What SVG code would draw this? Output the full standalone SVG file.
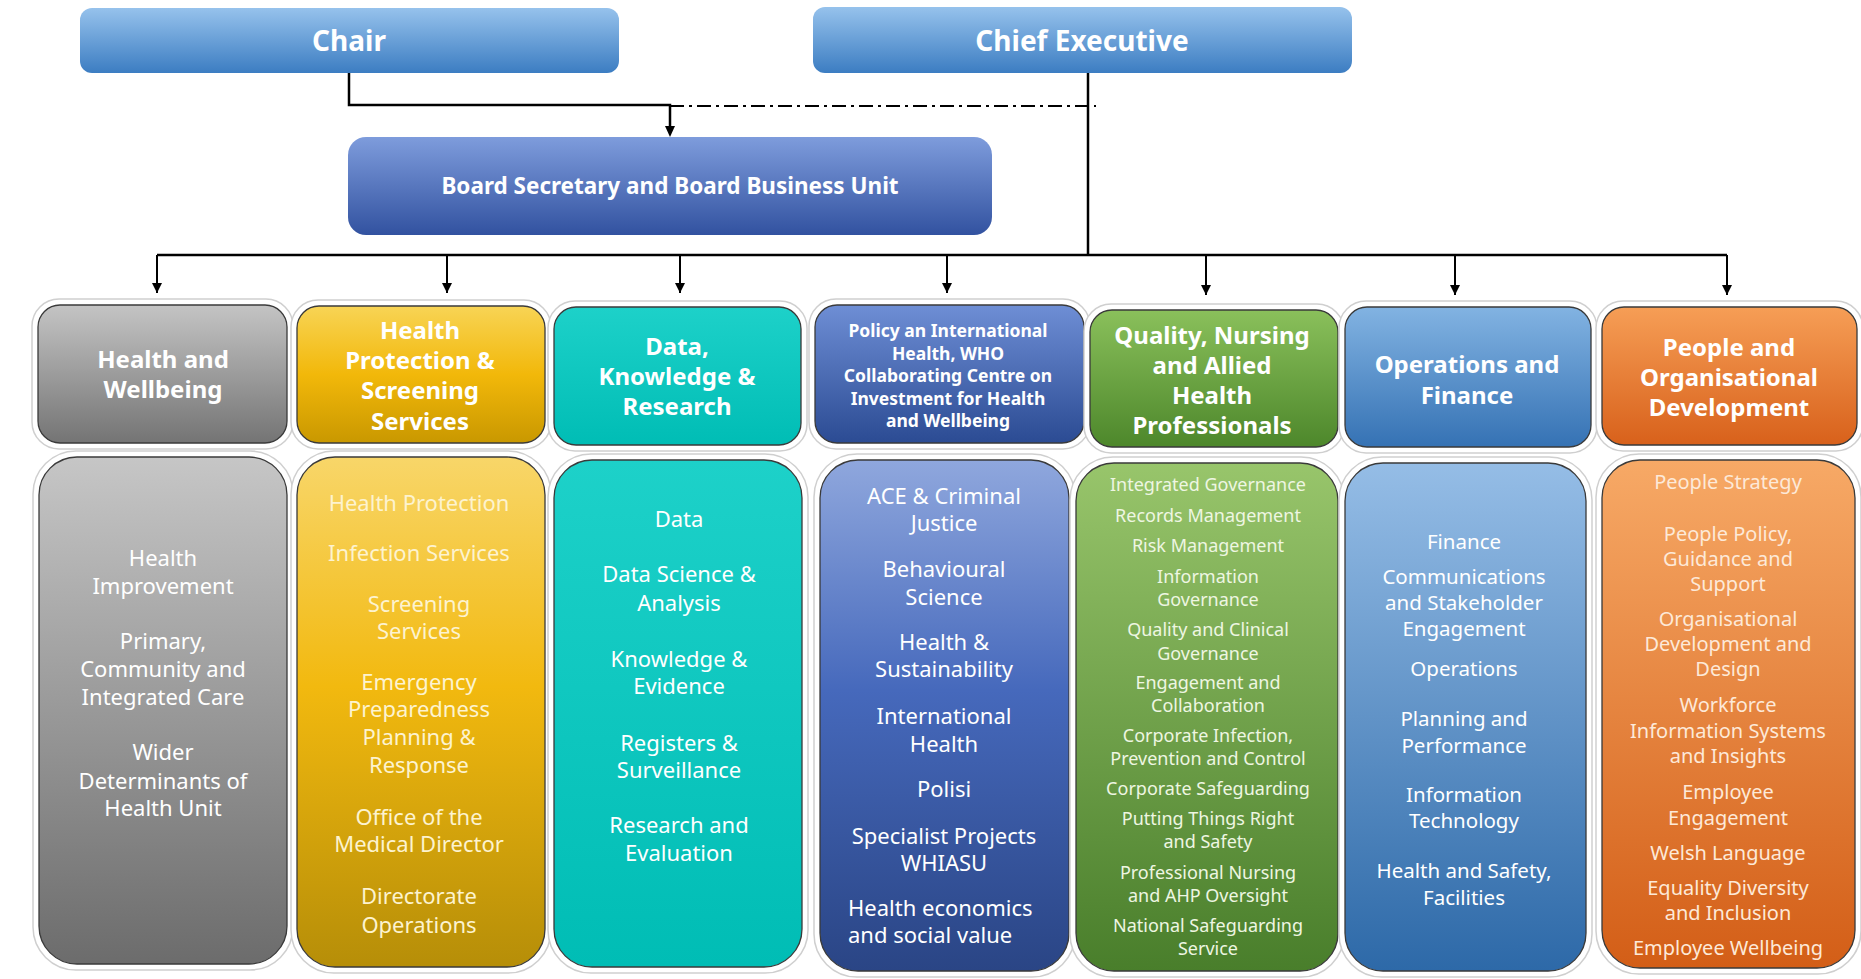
<svg xmlns="http://www.w3.org/2000/svg" width="1861" height="979" viewBox="0 0 1861 979">
<style>
text{font-family:"Noto Sans","Open Sans","Liberation Sans",sans-serif;fill:#fff;text-anchor:middle}
.t{font-weight:700;font-size:28px}
.bs{font-weight:700;font-size:22.5px}
.h{font-weight:700;font-size:24px}
.hs{font-weight:700;font-size:17.5px}
.l{font-size:22px}
.lg{font-size:18px;fill:#eef6e2}
.lo{font-size:20.5px}
.lr{font-size:20px;fill:#fde9d8}
.ly{fill:#fdf3cf}
.ring{fill:#fff;stroke:#cfcfcf;stroke-width:1.5}
.box{stroke:#3a3a3a;stroke-width:1.3}
.ln{fill:none;stroke:#000;stroke-width:2.5}
.ar{fill:none;stroke:#000;stroke-width:2}
</style>
<defs>
<marker id="arr" viewBox="0 0 10 10" refX="10" refY="5" markerWidth="10" markerHeight="10" markerUnits="userSpaceOnUse" orient="auto"><path d="M0,0 L10,5 L0,10 z" fill="#000"/></marker>
<linearGradient id="gTop" x1="0" y1="0" x2="0" y2="1"><stop offset="0" stop-color="#96c2ec"/><stop offset="1" stop-color="#3c7dc2"/></linearGradient>
<linearGradient id="gBoard" x1="0" y1="0" x2="0" y2="1"><stop offset="0" stop-color="#7e9cdc"/><stop offset="1" stop-color="#3252a0"/></linearGradient>
<linearGradient id="gGrayH" x1="0" y1="0" x2="0" y2="1"><stop offset="0" stop-color="#c4c4c4"/><stop offset="1" stop-color="#747474"/></linearGradient>
<linearGradient id="gGrayL" x1="0" y1="0" x2="0" y2="1"><stop offset="0" stop-color="#c6c6c6"/><stop offset="1" stop-color="#6c6c6c"/></linearGradient>
<linearGradient id="gYelH" x1="0" y1="0" x2="0" y2="1"><stop offset="0" stop-color="#f8d455"/><stop offset="0.5" stop-color="#f2b80a"/><stop offset="1" stop-color="#c99800"/></linearGradient>
<linearGradient id="gYelL" x1="0" y1="0" x2="0" y2="1"><stop offset="0" stop-color="#f8d669"/><stop offset="0.45" stop-color="#f2b90f"/><stop offset="1" stop-color="#b68e08"/></linearGradient>
<linearGradient id="gTeal" x1="0" y1="0" x2="0" y2="1"><stop offset="0" stop-color="#1dd1c9"/><stop offset="1" stop-color="#00bdb5"/></linearGradient>
<linearGradient id="gPolH" x1="0" y1="0" x2="0" y2="1"><stop offset="0" stop-color="#6e8ed5"/><stop offset="1" stop-color="#2b4b93"/></linearGradient>
<linearGradient id="gPolL" x1="0" y1="0" x2="0" y2="1"><stop offset="0" stop-color="#8fa7dd"/><stop offset="0.45" stop-color="#4669bc"/><stop offset="1" stop-color="#2a4585"/></linearGradient>
<linearGradient id="gGrnH" x1="0" y1="0" x2="0" y2="1"><stop offset="0" stop-color="#8ac05b"/><stop offset="1" stop-color="#4d872b"/></linearGradient>
<linearGradient id="gGrnL" x1="0" y1="0" x2="0" y2="1"><stop offset="0" stop-color="#98c56b"/><stop offset="1" stop-color="#497e2b"/></linearGradient>
<linearGradient id="gOpsH" x1="0" y1="0" x2="0" y2="1"><stop offset="0" stop-color="#82b3e2"/><stop offset="1" stop-color="#3572b4"/></linearGradient>
<linearGradient id="gOpsL" x1="0" y1="0" x2="0" y2="1"><stop offset="0" stop-color="#95bde6"/><stop offset="1" stop-color="#2d69a8"/></linearGradient>
<linearGradient id="gOrH" x1="0" y1="0" x2="0" y2="1"><stop offset="0" stop-color="#f69e56"/><stop offset="1" stop-color="#d8611b"/></linearGradient>
<linearGradient id="gOrL" x1="0" y1="0" x2="0" y2="1"><stop offset="0" stop-color="#f7a966"/><stop offset="1" stop-color="#d35e17"/></linearGradient>
</defs>
<rect width="1861" height="979" fill="#fff"/>

<g id="connectors">
<path class="ln" d="M349,73 V105 H670 V128"/>
<path d="M665,126 L670,137 L675,126 z" fill="#000"/>
<path class="ar" d="M670,106 H1096" stroke-dasharray="14,5,3,5"/>
<path class="ln" d="M1088,73 V255"/>
<path class="ln" d="M157,255 H1727"/>
<path class="ar" d="M157,255 V293" marker-end="url(#arr)"/>
<path class="ar" d="M447,255 V293" marker-end="url(#arr)"/>
<path class="ar" d="M680,255 V293" marker-end="url(#arr)"/>
<path class="ar" d="M947,255 V293" marker-end="url(#arr)"/>
<path class="ar" d="M1206,255 V295" marker-end="url(#arr)"/>
<path class="ar" d="M1455,255 V295" marker-end="url(#arr)"/>
<path class="ar" d="M1727,255 V295" marker-end="url(#arr)"/>
</g>

<g id="chair">
<rect x="80" y="8" width="539" height="65" rx="12" fill="url(#gTop)"/>
<text class="t" x="349" y="51">Chair</text>
</g>
<g id="chief-executive">
<rect x="813" y="7" width="539" height="66" rx="12" fill="url(#gTop)"/>
<text class="t" x="1082" y="51">Chief Executive</text>
</g>
<g id="board-secretary">
<rect x="348" y="137" width="644" height="98" rx="18" fill="url(#gBoard)"/>
<text class="bs" x="670" y="194">Board Secretary and Board Business Unit</text>
</g>

<g id="health-wellbeing">
<rect class="ring" x="32" y="299" width="261" height="150" rx="27"/>
<rect class="box" x="38" y="305" width="249" height="138" rx="22" fill="url(#gGrayH)"/>
<text class="h" x="163" y="368">Health and</text>
<text class="h" x="163" y="398">Wellbeing</text>
</g>
<g id="health-wellbeing-units">
<rect class="ring" x="33" y="451" width="260" height="519" rx="43"/>
<rect class="box" x="39" y="457" width="248" height="507" rx="38" fill="url(#gGrayL)"/>
<text class="l" x="163" y="566">Health</text>
<text class="l" x="163" y="594">Improvement</text>
<text class="l" x="163" y="649">Primary,</text>
<text class="l" x="163" y="677">Community and</text>
<text class="l" x="163" y="705">Integrated Care</text>
<text class="l" x="163" y="760">Wider</text>
<text class="l" x="163" y="789">Determinants of</text>
<text class="l" x="163" y="816">Health Unit</text>
</g>

<g id="health-protection">
<rect class="ring" x="291" y="300" width="260" height="149" rx="27"/>
<rect class="box" x="297" y="306" width="248" height="137" rx="22" fill="url(#gYelH)"/>
<text class="h" x="420" y="338.5">Health</text>
<text class="h" x="420" y="368.5">Protection &amp;</text>
<text class="h" x="420" y="398.5">Screening</text>
<text class="h" x="420" y="429.5">Services</text>
</g>
<g id="health-protection-units">
<rect class="ring" x="291" y="451" width="260" height="522" rx="43"/>
<rect class="box" x="297" y="457" width="248" height="510" rx="38" fill="url(#gYelL)"/>
<text class="l ly" x="419" y="511">Health Protection</text>
<text class="l ly" x="419" y="561">Infection Services</text>
<text class="l ly" x="419" y="612">Screening</text>
<text class="l ly" x="419" y="639">Services</text>
<text class="l ly" x="419" y="690">Emergency</text>
<text class="l ly" x="419" y="717">Preparedness</text>
<text class="l ly" x="419" y="745">Planning &amp;</text>
<text class="l ly" x="419" y="773">Response</text>
<text class="l ly" x="419" y="825">Office of the</text>
<text class="l ly" x="419" y="852">Medical Director</text>
<text class="l ly" x="419" y="904">Directorate</text>
<text class="l ly" x="419" y="933">Operations</text>
</g>

<g id="data-knowledge">
<rect class="ring" x="548" y="301" width="259" height="150" rx="27"/>
<rect class="box" x="554" y="307" width="247" height="138" rx="22" fill="url(#gTeal)"/>
<text class="h" x="677" y="355">Data,</text>
<text class="h" x="677" y="385">Knowledge &amp;</text>
<text class="h" x="677" y="415">Research</text>
</g>
<g id="data-knowledge-units">
<rect class="ring" x="548" y="454" width="260" height="519" rx="43"/>
<rect class="box" x="554" y="460" width="248" height="507" rx="38" fill="url(#gTeal)"/>
<text class="l" x="679" y="527">Data</text>
<text class="l" x="679" y="582">Data Science &amp;</text>
<text class="l" x="679" y="611">Analysis</text>
<text class="l" x="679" y="667">Knowledge &amp;</text>
<text class="l" x="679" y="694">Evidence</text>
<text class="l" x="679" y="751">Registers &amp;</text>
<text class="l" x="679" y="778">Surveillance</text>
<text class="l" x="679" y="833">Research and</text>
<text class="l" x="679" y="861">Evaluation</text>
</g>

<g id="policy-international">
<rect class="ring" x="809" y="299" width="281" height="150" rx="27"/>
<rect class="box" x="815" y="305" width="269" height="138" rx="22" fill="url(#gPolH)"/>
<text class="hs" x="948" y="337">Policy an International</text>
<text class="hs" x="948" y="360">Health, WHO</text>
<text class="hs" x="948" y="382">Collaborating Centre on</text>
<text class="hs" x="948" y="405">Investment for Health</text>
<text class="hs" x="948" y="427">and Wellbeing</text>
</g>
<g id="policy-international-units">
<rect class="ring" x="814" y="454" width="261" height="523" rx="43"/>
<rect class="box" x="820" y="460" width="249" height="511" rx="38" fill="url(#gPolL)"/>
<text class="l" x="944" y="504">ACE &amp; Criminal</text>
<text class="l" x="944" y="531">Justice</text>
<text class="l" x="944" y="577">Behavioural</text>
<text class="l" x="944" y="605">Science</text>
<text class="l" x="944" y="650">Health &amp;</text>
<text class="l" x="944" y="677">Sustainability</text>
<text class="l" x="944" y="724">International</text>
<text class="l" x="944" y="752">Health</text>
<text class="l" x="944" y="797">Polisi</text>
<text class="l" x="944" y="844">Specialist Projects</text>
<text class="l" x="944" y="871">WHIASU</text>
<text class="l" x="848" y="916" style="text-anchor:start">Health economics</text>
<text class="l" x="848" y="943" style="text-anchor:start">and social value</text>
</g>

<g id="quality-nursing">
<rect class="ring" x="1084" y="304" width="260" height="149" rx="27"/>
<rect class="box" x="1090" y="310" width="248" height="137" rx="22" fill="url(#gGrnH)"/>
<text class="h" x="1212" y="343.5">Quality, Nursing</text>
<text class="h" x="1212" y="373.5">and Allied</text>
<text class="h" x="1212" y="403.5">Health</text>
<text class="h" x="1212" y="433.5">Professionals</text>
</g>
<g id="quality-nursing-units">
<rect class="ring" x="1070" y="457" width="274" height="520" rx="43"/>
<rect class="box" x="1076" y="463" width="262" height="508" rx="38" fill="url(#gGrnL)"/>
<text class="lg" x="1208" y="490.5">Integrated Governance</text>
<text class="lg" x="1208" y="521.5">Records Management</text>
<text class="lg" x="1208" y="551.5">Risk Management</text>
<text class="lg" x="1208" y="582.5">Information</text>
<text class="lg" x="1208" y="605.5">Governance</text>
<text class="lg" x="1208" y="635.5">Quality and Clinical</text>
<text class="lg" x="1208" y="659.5">Governance</text>
<text class="lg" x="1208" y="688.5">Engagement and</text>
<text class="lg" x="1208" y="711.5">Collaboration</text>
<text class="lg" x="1208" y="741.5">Corporate Infection,</text>
<text class="lg" x="1208" y="764.5">Prevention and Control</text>
<text class="lg" x="1208" y="794.5">Corporate Safeguarding</text>
<text class="lg" x="1208" y="825">Putting Things Right</text>
<text class="lg" x="1208" y="848">and Safety</text>
<text class="lg" x="1208" y="878.5">Professional Nursing</text>
<text class="lg" x="1208" y="901.5">and AHP Oversight</text>
<text class="lg" x="1208" y="932">National Safeguarding</text>
<text class="lg" x="1208" y="955">Service</text>
</g>

<g id="operations-finance">
<rect class="ring" x="1339" y="301" width="258" height="152" rx="27"/>
<rect class="box" x="1345" y="307" width="246" height="140" rx="22" fill="url(#gOpsH)"/>
<text class="h" x="1467" y="372.5">Operations and</text>
<text class="h" x="1467" y="403.5">Finance</text>
</g>
<g id="operations-finance-units">
<rect class="ring" x="1339" y="457" width="253" height="520" rx="43"/>
<rect class="box" x="1345" y="463" width="241" height="508" rx="38" fill="url(#gOpsL)"/>
<text class="lo" x="1464" y="548.5">Finance</text>
<text class="lo" x="1464" y="584">Communications</text>
<text class="lo" x="1464" y="609.5">and Stakeholder</text>
<text class="lo" x="1464" y="636">Engagement</text>
<text class="lo" x="1464" y="675.5">Operations</text>
<text class="lo" x="1464" y="725.5">Planning and</text>
<text class="lo" x="1464" y="752.5">Performance</text>
<text class="lo" x="1464" y="802">Information</text>
<text class="lo" x="1464" y="828">Technology</text>
<text class="lo" x="1464" y="877.5">Health and Safety,</text>
<text class="lo" x="1464" y="904.5">Facilities</text>
</g>

<g id="people-od">
<rect class="ring" x="1596" y="301" width="267" height="150" rx="27"/>
<rect class="box" x="1602" y="307" width="255" height="138" rx="22" fill="url(#gOrH)"/>
<text class="h" x="1729" y="356">People and</text>
<text class="h" x="1729" y="386">Organisational</text>
<text class="h" x="1729" y="416">Development</text>
</g>
<g id="people-od-units">
<rect class="ring" x="1596" y="454" width="265" height="520" rx="43"/>
<rect class="box" x="1602" y="460" width="253" height="508" rx="38" fill="url(#gOrL)"/>
<text class="lr" x="1728" y="489">People Strategy</text>
<text class="lr" x="1728" y="541">People Policy,</text>
<text class="lr" x="1728" y="566">Guidance and</text>
<text class="lr" x="1728" y="591">Support</text>
<text class="lr" x="1728" y="626">Organisational</text>
<text class="lr" x="1728" y="651">Development and</text>
<text class="lr" x="1728" y="676">Design</text>
<text class="lr" x="1728" y="712">Workforce</text>
<text class="lr" x="1728" y="738">Information Systems</text>
<text class="lr" x="1728" y="763">and Insights</text>
<text class="lr" x="1728" y="799">Employee</text>
<text class="lr" x="1728" y="825">Engagement</text>
<text class="lr" x="1728" y="860">Welsh Language</text>
<text class="lr" x="1728" y="895">Equality Diversity</text>
<text class="lr" x="1728" y="920">and Inclusion</text>
<text class="lr" x="1728" y="955">Employee Wellbeing</text>
</g>
</svg>
